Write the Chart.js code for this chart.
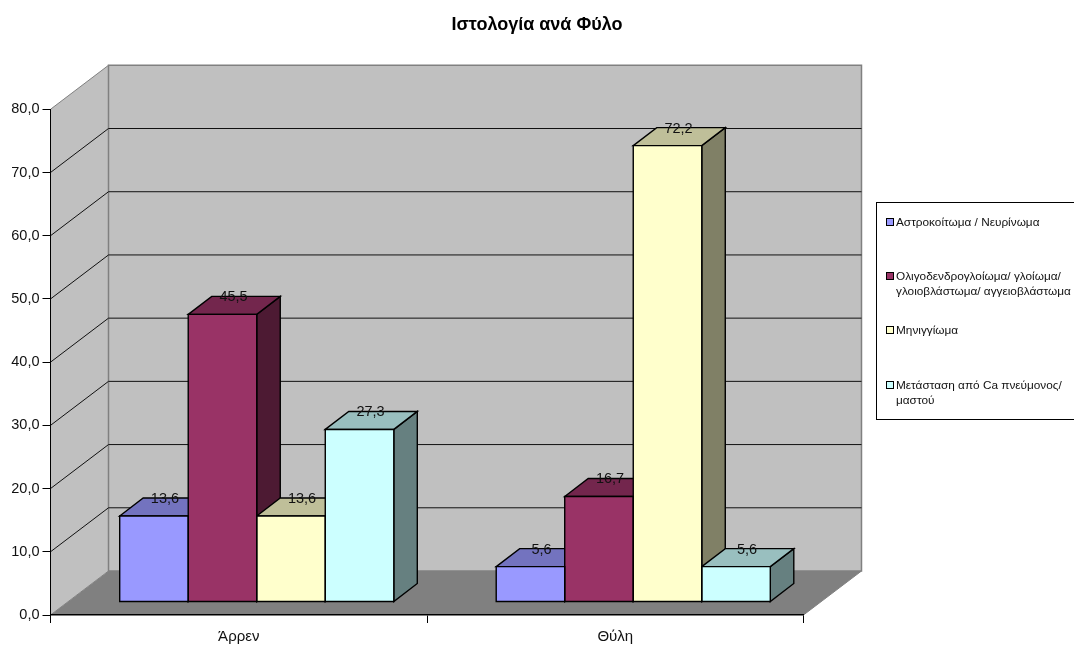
<!DOCTYPE html>
<html>
<head>
<meta charset="utf-8">
<title>Ιστολογία ανά Φύλο</title>
<script src="https://cdn.jsdelivr.net/npm/chart.js@4"></script>
<style>
  html, body { margin: 0; padding: 0; background: #fff; overflow: hidden; }
  canvas { display: block; }
</style>
</head>
<body>
<canvas id="myChart" width="1074" height="646"></canvas>
<script>
const categories = ['Άρρεν', 'Θύλη'];

const astro = [13.6, 5.6];
const oligo = [45.5, 16.7];
const miningioma = [13.6, 72.2];
const metastasi = [27.3, 5.6];

const seriesNames = [
  ['Αστροκοίτωμα / Νευρίνωμα'],
  ['Ολιγοδενδρογλοίωμα/ γλοίωμα/', 'γλοιοβλάστωμα/ αγγειοβλάστωμα'],
  ['Μηνιγγίωμα'],
  ['Μετάσταση από Ca πνεύμονος/', 'μαστού']
];

const frontColors = ['#9999FF', '#993366', '#FFFFCC', '#CCFFFF'];
const topColors = ['#7373BF', '#73264D', '#BFBF99', '#99BFBF'];
const sideColors = ['#4D4D80', '#4D1A33', '#808066', '#668080'];

const FONT = '"Liberation Sans", Arial, sans-serif';

// depth of the box and of the bars, in px
const wallDx = 58, wallDy = 44;
const barShiftX = 18, barShiftY = 13;
const barDx = 23.5, barDy = 18;
const barLine = 1.4;

const formatNum = (v) => v.toFixed(1).replace('.', ',');

const poly = (ctx, pts, fill, stroke, lw) => {
  ctx.beginPath();
  pts.forEach((p, i) => i ? ctx.lineTo(p[0], p[1]) : ctx.moveTo(p[0], p[1]));
  ctx.closePath();
  if (fill) { ctx.fillStyle = fill; ctx.fill(); }
  if (stroke) { ctx.strokeStyle = stroke; ctx.lineWidth = lw; ctx.stroke(); }
};

const boxPlugin = {
  id: 'box',
  // title is centred on the whole canvas, not on the plot
  afterLayout(chart) {
    chart.titleBlock.left = 0;
    chart.titleBlock.right = chart.width;
  },
  // side wall, back wall, floor and gridlines go under the axes
  beforeDraw(chart) {
    const { ctx, scales: { x, y } } = chart;
    const l = x.left, r = x.right, t = y.top, b = y.bottom;
    ctx.save();
    poly(ctx, [[l, b], [l + wallDx, b - wallDy], [r + wallDx, b - wallDy], [r, b]], '#808080');
    poly(ctx, [[l, t], [l + wallDx, t - wallDy], [l + wallDx, b - wallDy], [l, b]], '#C0C0C0');
    poly(ctx, [[l + wallDx, t - wallDy], [r + wallDx, t - wallDy], [r + wallDx, b - wallDy], [l + wallDx, b - wallDy]], '#C0C0C0', '#808080', 1.5);

    // edges of the box in grey
    ctx.strokeStyle = '#808080';
    ctx.lineWidth = 1;
    ctx.beginPath();
    ctx.moveTo(l, t); ctx.lineTo(l + wallDx, t - wallDy);
    ctx.moveTo(l, b); ctx.lineTo(l + wallDx, b - wallDy);
    ctx.moveTo(r, b); ctx.lineTo(r + wallDx, b - wallDy);
    ctx.stroke();

    ctx.strokeStyle = '#111';
    ctx.lineWidth = 1;
    ctx.beginPath();
    y.ticks.forEach((tick) => {
      if (tick.value === 0 || tick.value === y.max) return;
      const py = y.getPixelForValue(tick.value);
      ctx.moveTo(l, py);
      ctx.lineTo(l + wallDx, py - wallDy);
      ctx.lineTo(r + wallDx, py - wallDy);
    });
    ctx.stroke();
    ctx.restore();
  },
  // sides and tops first, in series order, then chart.js paints the fronts over them
  beforeDatasetsDraw(chart) {
    const ctx = chart.ctx;
    ctx.save();
    ctx.translate(barShiftX, -barShiftY);
    chart.data.datasets.forEach((ds, i) => {
      chart.getDatasetMeta(i).data.forEach((bar) => {
        const left = bar.x - bar.width / 2, right = bar.x + bar.width / 2;
        poly(ctx, [[right, bar.y], [right + barDx, bar.y - barDy], [right + barDx, bar.base - barDy], [right, bar.base]], sideColors[i], '#000', barLine);
        poly(ctx, [[left, bar.y], [left + barDx, bar.y - barDy], [right + barDx, bar.y - barDy], [right, bar.y]], topColors[i], '#000', barLine);
      });
    });
  },
  afterDatasetsDraw(chart) {
    const ctx = chart.ctx;
    // outline on the edge so neighbouring bars share one line
    chart.data.datasets.forEach((ds, i) => {
      chart.getDatasetMeta(i).data.forEach((bar) => {
        const left = bar.x - bar.width / 2, right = bar.x + bar.width / 2;
        poly(ctx, [[left, bar.y], [right, bar.y], [right, bar.base], [left, bar.base]], null, '#000', barLine);
      });
    });
    ctx.restore();
  },
  afterDraw(chart) {
    const ctx = chart.ctx;

    // value labels on the back edge of each bar
    ctx.save();
    ctx.font = '14.5px ' + FONT;
    ctx.fillStyle = '#111';
    ctx.textAlign = 'center';
    ctx.textBaseline = 'middle';
    chart.data.datasets.forEach((ds, i) => {
      chart.getDatasetMeta(i).data.forEach((bar, j) => {
        ctx.fillText(formatNum(ds.data[j]), bar.x + barShiftX + 11, bar.y - barShiftY - barDy + 1);
      });
    });

    // legend box, runs off the right edge like in the original
    ctx.strokeStyle = '#000';
    ctx.lineWidth = 1;
    ctx.strokeRect(876.5, 202.5, 210, 217);
    const rowY = [222, 276, 330, 385];
    ctx.font = '11.8px ' + FONT;
    ctx.textAlign = 'left';
    seriesNames.forEach((lines, i) => {
      ctx.fillStyle = frontColors[i];
      ctx.fillRect(886.5, rowY[i] - 3.5, 7, 7);
      ctx.strokeRect(886.5, rowY[i] - 3.5, 7, 7);
      ctx.fillStyle = '#111';
      lines.forEach((line, k) => ctx.fillText(line, 896, rowY[i] + 0.5 + k * 15));
    });
    ctx.restore();
  }
};

const allSeries = [astro, oligo, miningioma, metastasi];

new Chart(document.getElementById('myChart'), {
  type: 'bar',
  data: {
    labels: categories,
    datasets: allSeries.map((values, i) => ({
      label: seriesNames[i].join(' '),
      data: values,
      backgroundColor: frontColors[i],
      borderWidth: 0,
      categoryPercentage: 0.728,
      barPercentage: 1,
      clip: false
    }))
  },
  options: {
    responsive: false,
    animation: false,
    layout: { padding: { top: 0, right: 270.5, left: 0, bottom: 0 } },
    plugins: {
      legend: { display: false },
      tooltip: { enabled: false },
      title: {
        display: true,
        text: 'Ιστολογία ανά Φύλο',
        color: '#000',
        font: { family: FONT, size: 18, weight: 'bold' },
        padding: { top: 14, bottom: 73.7 }
      }
    },
    scales: {
      x: {
        afterFit: (s) => { s.height = 31; },
        grid: { drawOnChartArea: false, color: '#000', tickLength: 8, offset: true },
        border: { color: '#000', width: 1.5 },
        ticks: { color: '#111', font: { family: FONT, size: 15 }, padding: 5, maxRotation: 0 }
      },
      y: {
        min: 0,
        max: 80,
        afterFit: (s) => { s.width = 50.5; },
        grid: { drawOnChartArea: false, color: '#000', tickLength: 8 },
        border: { color: '#000', width: 1 },
        ticks: { stepSize: 10, color: '#111', font: { family: FONT, size: 14.5 }, padding: 3, callback: (v) => formatNum(v) }
      }
    }
  },
  plugins: [boxPlugin]
});
</script>
</body>
</html>
